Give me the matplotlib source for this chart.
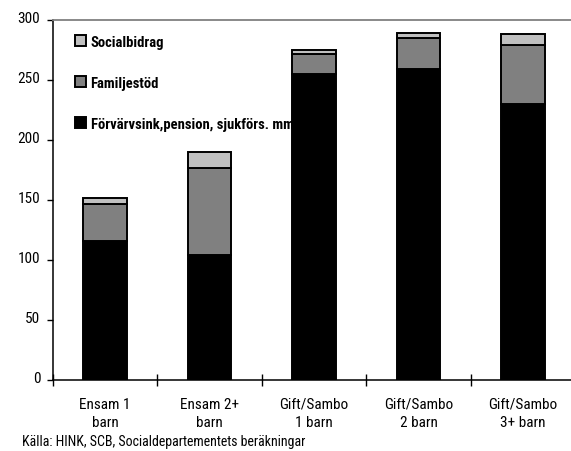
import matplotlib
matplotlib.use("Agg")
import matplotlib.pyplot as plt
from matplotlib import font_manager as fm
from matplotlib.transforms import ScaledTranslation
import numpy as np

categories = ["Ensam 1\nbarn", "Ensam 2+\nbarn", "Gift/Sambo\n1 barn", "Gift/Sambo\n2 barn", "Gift/Sambo\n3+ barn"]
forvarvsink = [116, 104, 255, 259, 230]
familjestod = [31, 73, 17, 26, 49]
socialbidrag = [5, 13, 3, 4, 9]
series_labels = ["Förvärvsink,pension, sjukförs. mm", "Familjestöd", "Socialbidrag"]
yticks = [0, 50, 100, 150, 200, 250, 300]
source = "Källa: HINK, SCB, Socialdepartementets beräkningar"

# pick a narrow font if available
names = {f.name for f in fm.fontManager.ttflist}
family = None
stretch = "normal"
for cand in ["Liberation Sans Narrow", "Roboto Condensed", "Open Sans Condensed", "DejaVu Sans Condensed"]:
    if cand in names:
        family = cand
        break
if family is None:
    cond = [f for f in fm.fontManager.ttflist if "ondensed" in str(f.stretch) or f.stretch in ("condensed", "semi-condensed")]
    if cond:
        family = cond[0].name
        stretch = "condensed"
    else:
        family = "Liberation Sans"
plt.rcParams["font.family"] = [family, "DejaVu Sans"]
plt.rcParams["font.stretch"] = stretch

fig = plt.figure(figsize=(5.71, 4.52), dpi=100)
ax = fig.add_axes([52.8 / 571, 71 / 452, 522.5 / 571, 360 / 452])

x = np.arange(len(categories))
w = 0.42
lw = 1.4
b1 = ax.bar(x, forvarvsink, w, color="#000000", edgecolor="black", linewidth=lw, label=series_labels[0], zorder=2)
b2 = ax.bar(x, familjestod, w, bottom=forvarvsink, color="#808080", edgecolor="black", linewidth=lw, label=series_labels[1], zorder=2)
bot2 = [a + b for a, b in zip(forvarvsink, familjestod)]
b3 = ax.bar(x, socialbidrag, w, bottom=bot2, color="#c0c0c0", edgecolor="black", linewidth=lw, label=series_labels[2], zorder=2)

ax.set_xlim(-0.5, len(categories) - 0.5)
ax.set_ylim(0, 300)
ax.set_yticks(yticks)
ax.tick_params(axis="y", direction="out", length=4, width=1, labelsize=11, pad=5, colors="black")
off = ScaledTranslation(0, 3.5 / 100, fig.dpi_scale_trans)
for lab in ax.get_yticklabels():
    lab.set_transform(lab.get_transform() + off)
ax.set_xticks(np.arange(len(categories) + 1) - 0.5)
ax.set_xticklabels([])
ax.tick_params(axis="x", which="major", direction="inout", length=9, width=1)
ax.set_xticks(x, minor=True)
ax.set_xticklabels(categories, minor=True, fontsize=11, linespacing=1.35)
ax.tick_params(axis="x", which="minor", length=0, pad=12)
for lab in ax.get_xticklabels(minor=True):
    lab.set_horizontalalignment("center")
    lab.set_multialignment("center")

ax.spines["right"].set_visible(False)
ax.spines["top"].set_color("#808080")
ax.spines["top"].set_linewidth(1.3)
ax.spines["left"].set_linewidth(1.1)
ax.spines["bottom"].set_linewidth(1.1)

handles = [b3, b2, b1]
labels = [series_labels[2], series_labels[1], series_labels[0]]
leg = ax.legend(handles, labels, loc="upper left", bbox_to_anchor=(22 / 522.5, 1 - 15 / 360),
                frameon=False, handlelength=0.78, handleheight=0.78, handletextpad=0.3,
                labelspacing=1.85, borderpad=0, borderaxespad=0,
                prop={"family": [family, "DejaVu Sans"], "weight": "bold", "size": 10.5, "stretch": stretch})
leg.set_zorder(1)

fig.text(22 / 571, 1 - 442 / 452, source, fontsize=10, va="center", ha="left")

fig.savefig("out.png", dpi=100)
